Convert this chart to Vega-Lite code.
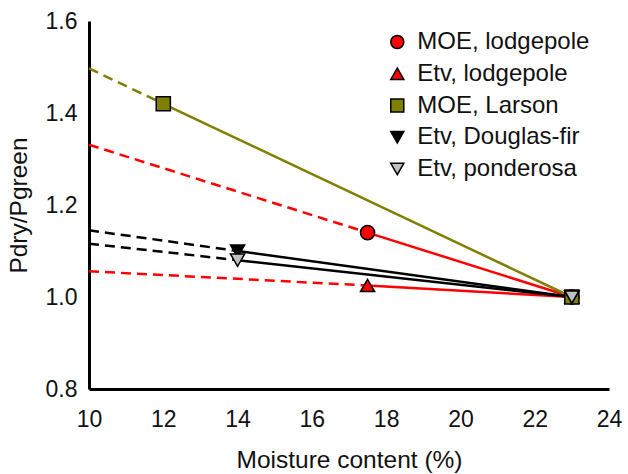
{
  "$schema": "https://vega.github.io/schema/vega-lite/v6.json",
  "width": 520,
  "height": 368,
  "autosize": "none",
  "padding": {"left": 89, "top": 21, "right": 19, "bottom": 85},
  "config": {
    "font": "Liberation Sans",
    "view": {"stroke": null},
    "axis": {
      "grid": false,
      "ticks": false,
      "domainColor": "#000000",
      "domainWidth": 3,
      "labelColor": "#111111",
      "labelFontSize": 23,
      "labelFlush": false,
      "titleColor": "#111111",
      "titleFontSize": 24.5,
      "titleFontWeight": "normal"
    }
  },
  "resolve": {"scale": {"y": "independent"}},
  "layer": [
    {
      "data": {
        "values": [
          {"series": "MOE, lodgepole", "part": "ext", "mc": 10, "ratio": 1.331},
          {"series": "MOE, lodgepole", "part": "ext", "mc": 17.5, "ratio": 1.14},
          {"series": "MOE, lodgepole", "part": "fit", "mc": 17.5, "ratio": 1.14},
          {"series": "MOE, lodgepole", "part": "fit", "mc": 23, "ratio": 1.0},
          {"series": "Etv, lodgepole", "part": "ext", "mc": 10, "ratio": 1.056},
          {"series": "Etv, lodgepole", "part": "ext", "mc": 17.5, "ratio": 1.025},
          {"series": "Etv, lodgepole", "part": "fit", "mc": 17.5, "ratio": 1.025},
          {"series": "Etv, lodgepole", "part": "fit", "mc": 23, "ratio": 1.0},
          {"series": "MOE, Larson", "part": "ext", "mc": 10, "ratio": 1.497},
          {"series": "MOE, Larson", "part": "ext", "mc": 12, "ratio": 1.42},
          {"series": "MOE, Larson", "part": "fit", "mc": 12, "ratio": 1.42},
          {"series": "MOE, Larson", "part": "fit", "mc": 23, "ratio": 1.0},
          {"series": "Etv, Douglas-fir", "part": "ext", "mc": 10, "ratio": 1.145},
          {"series": "Etv, Douglas-fir", "part": "ext", "mc": 14, "ratio": 1.1},
          {"series": "Etv, Douglas-fir", "part": "fit", "mc": 14, "ratio": 1.1},
          {"series": "Etv, Douglas-fir", "part": "fit", "mc": 23, "ratio": 1.0},
          {"series": "Etv, ponderosa", "part": "ext", "mc": 10, "ratio": 1.116},
          {"series": "Etv, ponderosa", "part": "ext", "mc": 14, "ratio": 1.08},
          {"series": "Etv, ponderosa", "part": "fit", "mc": 14, "ratio": 1.08},
          {"series": "Etv, ponderosa", "part": "fit", "mc": 23, "ratio": 1.0}
        ]
      },
      "encoding": {
        "x": {
          "field": "mc",
          "type": "quantitative",
          "title": "Moisture content (%)",
          "scale": {"domain": [10, 24], "nice": false, "zero": false},
          "axis": {"values": [10, 12, 14, 16, 18, 20, 22, 24], "format": "d", "labelPadding": 19, "titlePadding": 17}
        },
        "y": {
          "field": "ratio",
          "type": "quantitative",
          "title": "Pdry/Pgreen",
          "scale": {"domain": [0.8, 1.6], "nice": false, "zero": false},
          "axis": {"values": [0.8, 1.0, 1.2, 1.4, 1.6], "format": ".1f", "labelPadding": 12, "titlePadding": 14}
        }
      },
      "layer": [
        {
          "transform": [{"filter": "datum.part === 'ext'"}],
          "mark": {"type": "line", "strokeWidth": 2.5, "strokeDash": [10, 6], "clip": false},
          "encoding": {
            "stroke": {
              "field": "series",
              "type": "nominal",
              "scale": {
                "domain": ["MOE, lodgepole", "Etv, lodgepole", "MOE, Larson", "Etv, Douglas-fir", "Etv, ponderosa"],
                "range": ["#ff0000", "#ff0000", "#808000", "#000000", "#000000"]
              },
              "legend": null
            }
          }
        },
        {
          "transform": [{"filter": "datum.part === 'fit'"}],
          "mark": {"type": "line", "strokeWidth": 2.5, "clip": false},
          "encoding": {
            "stroke": {"field": "series", "type": "nominal", "legend": null}
          }
        },
        {
          "data": {"values": [{"tick": 10}, {"tick": 12}, {"tick": 14}, {"tick": 16}, {"tick": 18}, {"tick": 20}, {"tick": 22}, {"tick": 24}]},
          "mark": {"type": "tick", "orient": "vertical", "color": "#000000", "opacity": 1, "size": 11, "thickness": 3},
          "encoding": {
            "x": {"field": "tick", "type": "quantitative"},
            "y": {"datum": 0.8119}
          }
        },
        {
          "data": {"values": [{"tick": 0.8}, {"tick": 1.0}, {"tick": 1.2}, {"tick": 1.4}, {"tick": 1.6}]},
          "mark": {"type": "tick", "orient": "horizontal", "color": "#000000", "opacity": 1, "size": 11, "thickness": 3},
          "encoding": {
            "y": {"field": "tick", "type": "quantitative"},
            "x": {"datum": 10.148}
          }
        },
        {
          "transform": [{"filter": "datum.part === 'fit'"}],
          "mark": {"type": "point", "filled": true, "opacity": 1, "stroke": "#000000", "strokeWidth": 1.5, "size": 200},
          "encoding": {
            "shape": {
              "field": "series",
              "type": "nominal",
              "scale": {
                "domain": ["MOE, lodgepole", "Etv, lodgepole", "MOE, Larson", "Etv, Douglas-fir", "Etv, ponderosa"],
                "range": ["circle", "triangle-up", "square", "triangle-down", "triangle-down"]
              },
              "legend": null
            },
            "fill": {
              "field": "series",
              "type": "nominal",
              "scale": {
                "domain": ["MOE, lodgepole", "Etv, lodgepole", "MOE, Larson", "Etv, Douglas-fir", "Etv, ponderosa"],
                "range": ["#ff0000", "#ff0000", "#808000", "#000000", "#c0c0c0"]
              },
              "legend": null
            }
          }
        }
      ]
    },
    {
      "data": {
        "values": [
          {"series": "MOE, lodgepole"},
          {"series": "Etv, lodgepole"},
          {"series": "MOE, Larson"},
          {"series": "Etv, Douglas-fir"},
          {"series": "Etv, ponderosa"}
        ]
      },
      "encoding": {
        "x": {"datum": 18.3, "type": "quantitative"},
        "y": {
          "field": "series",
          "type": "nominal",
          "scale": {
            "type": "point",
            "domain": ["MOE, lodgepole", "Etv, lodgepole", "MOE, Larson", "Etv, Douglas-fir", "Etv, ponderosa"],
            "range": [21, 148],
            "padding": 0
          },
          "axis": null
        }
      },
      "layer": [
        {
          "mark": {"type": "point", "filled": true, "opacity": 1, "stroke": "#000000", "strokeWidth": 1.5, "size": 170},
          "encoding": {
            "shape": {"field": "series", "type": "nominal", "legend": null},
            "fill": {"field": "series", "type": "nominal", "legend": null}
          }
        },
        {
          "mark": {"type": "text", "align": "left", "baseline": "middle", "dx": 20, "fontSize": 24, "color": "#111111"},
          "encoding": {
            "text": {"field": "series"}
          }
        }
      ]
    }
  ]
}
